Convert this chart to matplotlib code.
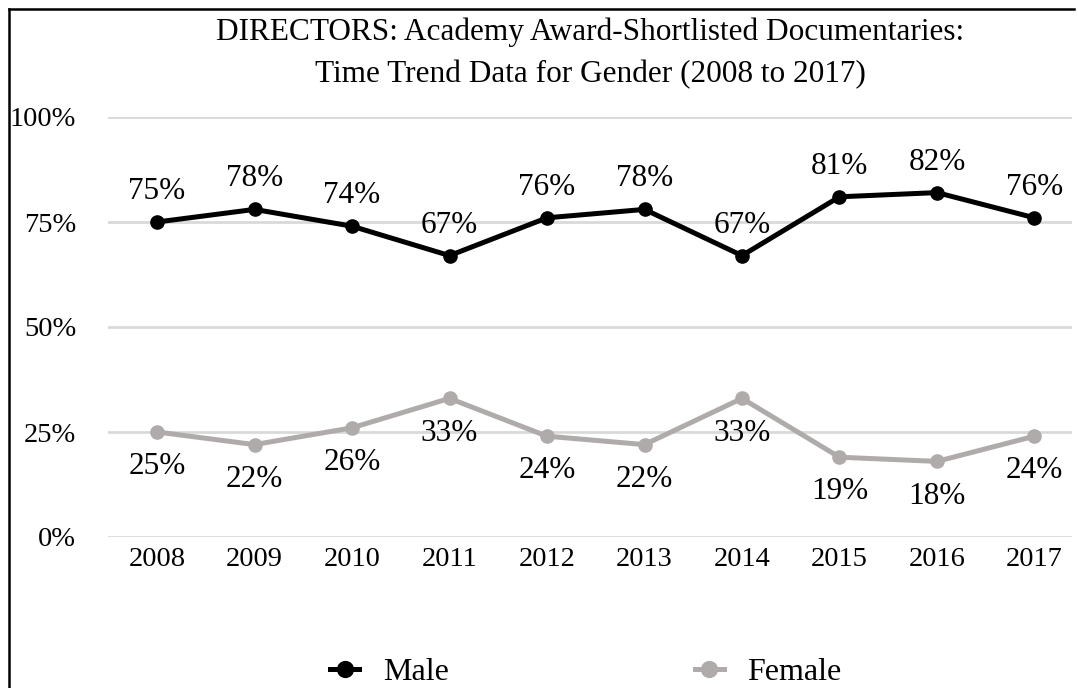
import matplotlib
matplotlib.use("Agg")
import matplotlib.pyplot as plt
from matplotlib.lines import Line2D
from matplotlib.ticker import FixedLocator

plt.rcParams['font.family'] = ['Liberation Serif', 'DejaVu Serif']

years = ['2008', '2009', '2010', '2011', '2012', '2013', '2014', '2015', '2016', '2017']
male = [75, 78, 74, 67, 76, 78, 67, 81, 82, 76]
female = [25, 22, 26, 33, 24, 22, 33, 19, 18, 24]
y_ticks = [0, 25, 50, 75, 100]

W, H = 1078, 688
fig = plt.figure(figsize=(W / 100, H / 100), dpi=100)

# axes placed in pixel terms of the reference
left, right, top, bottom = 108.3, 1072, 117, 537
ax = fig.add_axes([left / W, (H - bottom) / H, (right - left) / W, (bottom - top) / H])

x = list(range(len(years)))
male_col = '#000000'
female_col = '#afabab'

ax.plot(x, male, color=male_col, lw=3.6, marker='o', ms=9.5, label='Male', zorder=3)
ax.plot(x, female, color=female_col, lw=3.6, marker='o', ms=9.5, label='Female', zorder=3)

for i, v in enumerate(male):
    ax.annotate(f'{v}%', (i, v), xytext=(0, 22), textcoords='offset points',
                ha='center', va='center', fontsize=22.5)
for i, v in enumerate(female):
    ax.annotate(f'{v}%', (i, v), xytext=(0, -25), textcoords='offset points',
                ha='center', va='center', fontsize=22.5)

ax.set_xlim(-0.5, len(years) - 1 + 0.385)
ax.set_ylim(0, 100)
ax.yaxis.set_major_locator(FixedLocator(y_ticks))
ax.set_yticklabels([f'{t}%' for t in y_ticks])
ax.set_xticks(x)
ax.set_xticklabels(years)
ax.tick_params(axis='y', length=0, pad=23, labelsize=20.5)
ax.tick_params(axis='x', length=0, pad=7, labelsize=20.5)
ax.grid(axis='y', color='#d9d9d9', lw=2)
ax.set_axisbelow(True)
for s in ax.spines.values():
    s.set_visible(False)

fig.text(590 / W, 1 - 32 / H, 'DIRECTORS: Academy Award-Shortlisted Documentaries:',
         ha='center', va='center', fontsize=22.5)
fig.text(590 / W, 1 - 75 / H, 'Time Trend Data for Gender (2008 to 2017)',
         ha='center', va='center', fontsize=22.5)

handles, labels = ax.get_legend_handles_labels()
leg = fig.legend(handles, labels, loc='center', bbox_to_anchor=(586 / W, 1 - 672 / H),
                 ncol=2, frameon=False, fontsize=23, handlelength=0.9,
                 columnspacing=7.7, handletextpad=0.75, markerscale=1.2,
                 borderpad=0, borderaxespad=0)

# outer frame: top and left edges are the only ones visible
fx0, fy0, fx1 = 8.5 / W, 1 - 8.5 / H, 1074 / W
fig.add_artist(Line2D([fx0, fx1], [fy0, fy0], transform=fig.transFigure, color='black', lw=1.8))
fig.add_artist(Line2D([fx0, fx0], [fy0, 0], transform=fig.transFigure, color='black', lw=1.8))

fig.savefig('out.png', dpi=100)
